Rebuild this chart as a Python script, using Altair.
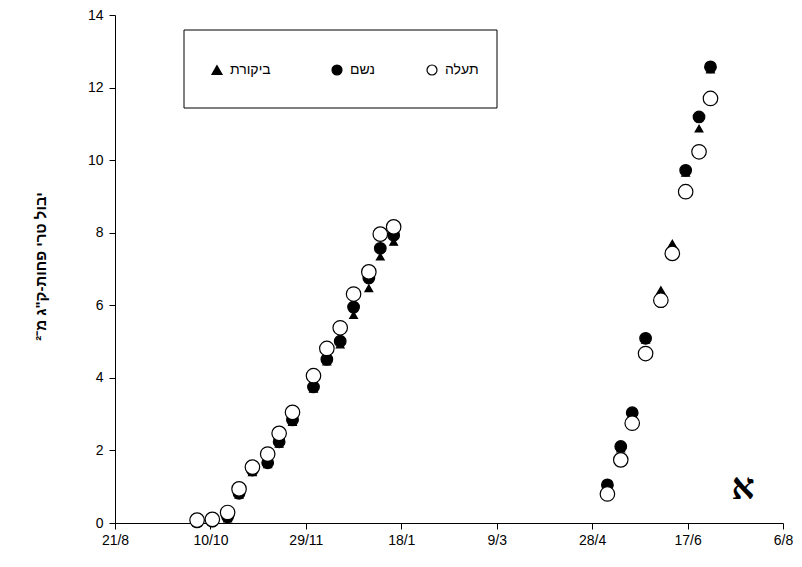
import json
import altair as alt
import pandas as pd

# ---- data ----
series_names = ["ביקורת", "נשם", "תעלה"]          # control, breathing, channel
x_tick_labels = ["21/8", "10/10", "29/11", "18/1", "9/3", "28/4", "17/6", "6/8"]

# days after 21/8 (sampling dates, shared by all three series)
days = [43, 51, 59, 65, 72, 80, 86, 93, 104, 111, 118, 125, 133, 139, 146,
        258, 265, 271, 278, 286, 292, 299, 306, 312]

yield_control = [0.00, 0.03, 0.12, 0.78, 1.40, 1.62, 2.18, 2.78, 3.70, 4.45, 4.92, 5.73, 6.47, 7.34, 7.75,
                 1.00, 2.05, 3.00, 5.05, 6.42, 7.70, 9.65, 10.87, 12.50]
yield_breath = [0.03, 0.05, 0.17, 0.82, 1.46, 1.66, 2.24, 2.84, 3.75, 4.51, 5.01, 5.95, 6.75, 7.57, 7.93,
                1.05, 2.11, 3.04, 5.09, 6.10, 7.45, 9.72, 11.19, 12.57]
yield_channel = [0.08, 0.10, 0.29, 0.94, 1.54, 1.90, 2.47, 3.05, 4.06, 4.81, 5.38, 6.31, 6.92, 7.96, 8.16,
                 0.80, 1.74, 2.75, 4.67, 6.14, 7.43, 9.13, 10.23, 11.70]

rows = []
for name, vals in zip(series_names, [yield_control, yield_breath, yield_channel]):
    for d, v in zip(days, vals):
        rows.append({"day": d, "value": v, "series": name})
df = pd.DataFrame(rows)

# ---- styling ----
FONT = "Liberation Sans"
SHAPES = ["triangle-up", "circle", "circle"]
FILLS = ["black", "black", "white"]
SIZES = [60, 210, 210]
label_expr = json.dumps(x_tick_labels) + "[round(datum.value / 50)]"
y_title = 'יבול טרי פחות-ק"ג מ' + "\u207B\u00B2"

points = alt.Chart(df).mark_point(filled=True, stroke="black", strokeWidth=1.2, opacity=1).encode(
    x=alt.X("day:Q",
            scale=alt.Scale(domain=[0, 350], nice=False, zero=False),
            axis=alt.Axis(values=list(range(0, 351, 50)), labelExpr=label_expr,
                          title=None, grid=False, tickSize=6, labelPadding=4,
                          labelFlush=False)),
    y=alt.Y("value:Q",
            scale=alt.Scale(domain=[0, 14], nice=False),
            axis=alt.Axis(values=list(range(0, 15, 2)), grid=False, tickSize=6,
                          labelPadding=6, title=y_title, titleFont=FONT,
                          titleFontSize=15, titleFontWeight="bold", titleColor="black",
                          titleX=-75, titleY=251, titleAngle=-90,
                          titleAlign="center", titleBaseline="middle")),
    shape=alt.Shape("series:N", scale=alt.Scale(domain=series_names, range=SHAPES), legend=None),
    fill=alt.Fill("series:N", scale=alt.Scale(domain=series_names, range=FILLS), legend=None),
    size=alt.Size("series:N", scale=alt.Scale(domain=series_names, range=SIZES), legend=None),
)

# ---- legend box (drawn by hand) ----
box = alt.Chart(pd.DataFrame({"a": [0]})).mark_rect(
    fill="white", fillOpacity=0, stroke="black", strokeWidth=1
).encode(x=alt.value(69), x2=alt.value(382), y=alt.value(15), y2=alt.value(93))

legend_x = [102, 222, 317]   # layout: symbol centres inside the box
legend_layers = []
for name, lx, shp, fil in zip(series_names, legend_x, SHAPES, FILLS):
    entry = alt.Chart(pd.DataFrame({"series": [name]}))
    legend_layers.append(
        entry.mark_point(shape=shp, filled=True, fill=fil, stroke="black",
                         strokeWidth=1.2, size=100, opacity=1)
        .encode(x=alt.value(lx), y=alt.value(55))
    )
    legend_layers.append(
        entry.mark_text(align="left", baseline="middle", font=FONT, fontSize=14, color="black")
        .encode(x=alt.value(lx + 13), y=alt.value(55), text="series:N")
    )

aleph = alt.Chart(pd.DataFrame({"a": [0]})).mark_text(
    text="א", font="Liberation Serif", fontSize=36, fontWeight="bold",
    color="black", align="center", baseline="middle"
).encode(x=alt.value(628), y=alt.value(473))

chart = alt.layer(box, points, *legend_layers, aleph).properties(
    width=668, height=508,
    padding={"left": 107, "top": 7, "right": 11, "bottom": 36},
    autosize=alt.AutoSizeParams(type="none"),
).configure_view(stroke=None).configure_axis(
    domainColor="black", tickColor="black", labelColor="black",
    labelFont=FONT, labelFontSize=14, domainWidth=1, tickWidth=1,
)

chart.save("out.html", embed_options={"renderer": "svg", "actions": False})
